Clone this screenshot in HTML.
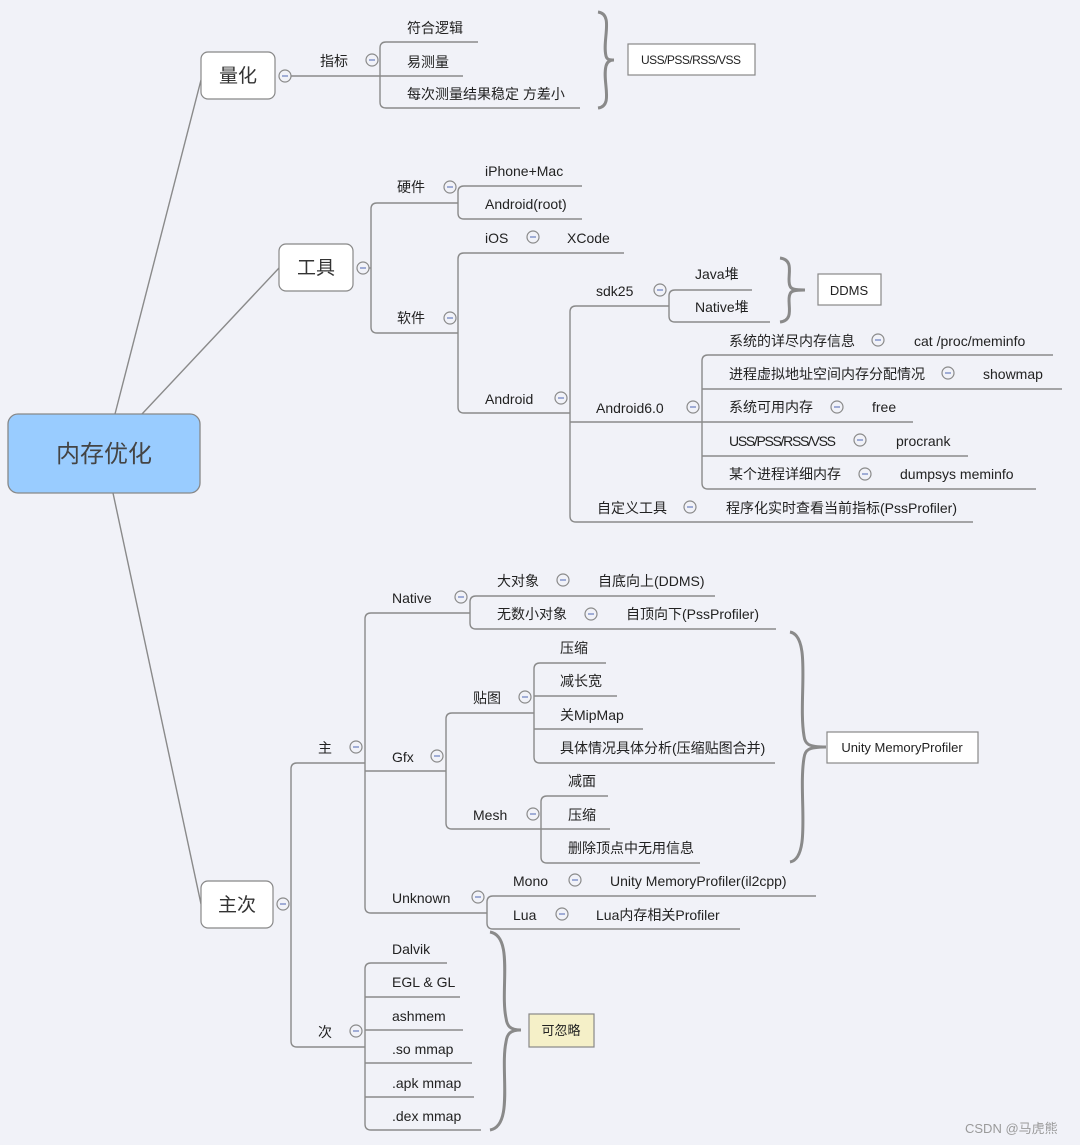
<!DOCTYPE html>
<html><head><meta charset="utf-8"><style>
html,body{margin:0;padding:0;background:#f1f2f8}
svg{display:block}
text{font-family:"Liberation Sans","Noto Sans CJK SC",sans-serif;font-size:14px;fill:#222}
.l{fill:none;stroke:#8a8a8a;stroke-width:1.4}
.b{fill:none;stroke:#8a8a8a;stroke-width:3}
.c{fill:#f1f2f8;stroke:#8a8a8a;stroke-width:1.2}
.m{stroke:#6a7fc0;stroke-width:1.2}
.bx{fill:#fff;stroke:#888;stroke-width:1.2}
.big{font-size:19px;fill:#333}
</style></head><body>
<svg width="1080" height="1145" viewBox="0 0 1080 1145" xmlns="http://www.w3.org/2000/svg">
<defs>
<g id="cc"><circle class="c" cx="0" cy="0" r="6"/><line class="m" x1="-3" y1="0" x2="3" y2="0"/></g>
</defs>
<path class="l" d="M115,414 L201,80"/>
<path class="l" d="M142,414 L279,268"/>
<path class="l" d="M113,493 L201,904"/>
<rect x="8" y="414" width="192" height="79" rx="10" fill="#99ccff" stroke="#888" stroke-width="1.3"/>
<text x="104" y="462" text-anchor="middle" style="font-size:24px;fill:#444">内存优化</text>

<rect class="bx" x="201" y="52" width="74" height="47" rx="7"/>
<text class="big" x="238" y="82" text-anchor="middle">量化</text>
<path class="l" d="M291,76 H463"/>
<path class="l" d="M478,42 H386 Q380,42 380,48 V102 Q380,108 386,108 H580"/>
<use href="#cc" x="285" y="76"/>
<text x="320" y="66">指标</text><use href="#cc" x="372" y="60"/>
<text x="407" y="33">符合逻辑</text>
<text x="407" y="67">易测量</text>
<text x="407" y="99">每次测量结果稳定 方差小</text>
<path class="b" d="M598,12 C614,14 602,40 606,56 C607,60 610,60 614,60 C610,60 607,62 606,66 C602,82 614,106 598,108"/>
<rect class="bx" x="628" y="44" width="127" height="31"/>
<text x="691" y="64" text-anchor="middle" style="font-size:12px" textLength="100">USS/PSS/RSS/VSS</text>

<rect class="bx" x="279" y="244" width="74" height="47" rx="7"/>
<text class="big" x="316" y="274" text-anchor="middle">工具</text>
<path class="l" d="M369,268 H371"/>
<path class="l" d="M458,203 H377 Q371,203 371,209 V327 Q371,333 377,333 H458"/>
<use href="#cc" x="363" y="268"/>
<text x="397" y="192">硬件</text><use href="#cc" x="450" y="187"/>
<path class="l" d="M582,186 H464 Q458,186 458,192 V213 Q458,219 464,219 H582"/>
<text x="485" y="176">iPhone+Mac</text>
<text x="485" y="209">Android(root)</text>
<text x="397" y="323">软件</text><use href="#cc" x="450" y="318"/>
<path class="l" d="M624,253 H464 Q458,253 458,259 V407 Q458,413 464,413 H570"/>
<text x="485" y="243">iOS</text><use href="#cc" x="533" y="237"/><text x="567" y="243">XCode</text>
<text x="485" y="404">Android</text><use href="#cc" x="561" y="398"/>
<path class="l" d="M669,306 H576 Q570,306 570,312 V516 Q570,522 576,522 H973"/>
<path class="l" d="M570,422 H913"/>
<text x="596" y="296">sdk25</text><use href="#cc" x="660" y="290"/>
<path class="l" d="M752,290 H675 Q669,290 669,296 V316 Q669,322 675,322 H770"/>
<text x="695" y="279">Java堆</text>
<text x="695" y="312">Native堆</text>
<path class="b" d="M780,258 C796,260 786,278 790,286 C791,289 794,290 805,290 C794,290 791,291 790,294 C786,302 796,320 780,322"/>
<rect class="bx" x="818" y="274" width="63" height="31"/>
<text x="849" y="295" text-anchor="middle" style="font-size:13px">DDMS</text>
<text x="596" y="413">Android6.0</text><use href="#cc" x="693" y="407"/>
<path class="l" d="M1053,355 H708 Q702,355 702,361 V483 Q702,489 708,489 H1036"/>
<path class="l" d="M702,389 H1062"/>
<path class="l" d="M702,456 H968"/>
<text x="729" y="346">系统的详尽内存信息</text><use href="#cc" x="878" y="340"/><text x="914" y="346">cat /proc/meminfo</text>
<text x="729" y="379">进程虚拟地址空间内存分配情况</text><use href="#cc" x="948" y="373"/><text x="983" y="379">showmap</text>
<text x="729" y="412">系统可用内存</text><use href="#cc" x="837" y="407"/><text x="872" y="412">free</text>
<text x="729" y="446" textLength="107">USS/PSS/RSS/VSS</text><use href="#cc" x="860" y="440"/><text x="896" y="446">procrank</text>
<text x="729" y="479">某个进程详细内存</text><use href="#cc" x="865" y="474"/><text x="900" y="479">dumpsys meminfo</text>
<text x="597" y="513">自定义工具</text><use href="#cc" x="690" y="507"/><text x="726" y="513">程序化实时查看当前指标(PssProfiler)</text>

<rect class="bx" x="201" y="881" width="72" height="47" rx="7"/>
<text class="big" x="237" y="911" text-anchor="middle">主次</text>
<use href="#cc" x="283" y="904"/>
<path class="l" d="M365,763 H297 Q291,763 291,769 V1041 Q291,1047 297,1047 H365"/>
<text x="318" y="753">主</text><use href="#cc" x="356" y="747"/>
<path class="l" d="M470,613 H371 Q365,613 365,619 V907 Q365,913 371,913 H487"/>
<path class="l" d="M365,771 H446"/>
<text x="392" y="603">Native</text><use href="#cc" x="461" y="597"/>
<path class="l" d="M715,596 H476 Q470,596 470,602 V623 Q470,629 476,629 H776"/>
<text x="497" y="586">大对象</text><use href="#cc" x="563" y="580"/><text x="598" y="586">自底向上(DDMS)</text>
<text x="497" y="619">无数小对象</text><use href="#cc" x="591" y="614"/><text x="626" y="619">自顶向下(PssProfiler)</text>
<text x="392" y="762">Gfx</text><use href="#cc" x="437" y="756"/>
<path class="l" d="M534,713 H452 Q446,713 446,719 V823 Q446,829 452,829 H541"/>
<text x="473" y="703">贴图</text><use href="#cc" x="525" y="697"/>
<path class="l" d="M606,663 H540 Q534,663 534,669 V757 Q534,763 540,763 H775"/>
<path class="l" d="M534,696 H617"/><path class="l" d="M534,729 H643"/>
<text x="560" y="653">压缩</text><text x="560" y="686">减长宽</text><text x="560" y="720">关MipMap</text><text x="560" y="753">具体情况具体分析(压缩贴图合并)</text>
<text x="473" y="820">Mesh</text><use href="#cc" x="533" y="814"/>
<path class="l" d="M608,796 H547 Q541,796 541,802 V857 Q541,863 547,863 H700"/>
<path class="l" d="M541,829 H610"/>
<text x="568" y="786">减面</text><text x="568" y="820">压缩</text><text x="568" y="853">删除顶点中无用信息</text>
<path class="b" d="M790,632 C812,636 798,700 804,736 C805,744 808,747 826,747 C808,747 805,750 804,758 C798,794 812,858 790,862"/>
<rect class="bx" x="827" y="732" width="151" height="31"/>
<text x="902" y="752" text-anchor="middle" style="font-size:13px">Unity MemoryProfiler</text>
<text x="392" y="903">Unknown</text><use href="#cc" x="478" y="897"/>
<path class="l" d="M816,896 H493 Q487,896 487,902 V923 Q487,929 493,929 H740"/>
<text x="513" y="886">Mono</text><use href="#cc" x="575" y="880"/><text x="610" y="886">Unity MemoryProfiler(il2cpp)</text>
<text x="513" y="920">Lua</text><use href="#cc" x="562" y="914"/><text x="596" y="920">Lua内存相关Profiler</text>
<text x="318" y="1037">次</text><use href="#cc" x="356" y="1031"/>
<path class="l" d="M447,963 H371 Q365,963 365,969 V1124 Q365,1130 371,1130 H481"/>
<path class="l" d="M365,997 H460"/><path class="l" d="M365,1030 H463"/><path class="l" d="M365,1063 H472"/><path class="l" d="M365,1097 H474"/>
<text x="392" y="954">Dalvik</text><text x="392" y="987">EGL &amp; GL</text><text x="392" y="1021">ashmem</text><text x="392" y="1054">.so mmap</text><text x="392" y="1088">.apk mmap</text><text x="392" y="1121">.dex mmap</text>
<path class="b" d="M490,932 C514,936 500,990 506,1018 C507,1026 510,1030 521,1030 C510,1030 507,1034 506,1042 C500,1070 514,1126 490,1130"/>
<rect x="529" y="1014" width="65" height="33" fill="#f5f0c8" stroke="#888" stroke-width="1.2"/>
<text x="561" y="1035" text-anchor="middle" style="font-size:13px">可忽略</text>
<text x="965" y="1133" style="font-size:13px;fill:#9a9a9a">CSDN @马虎熊</text>
</svg>
</body></html>
